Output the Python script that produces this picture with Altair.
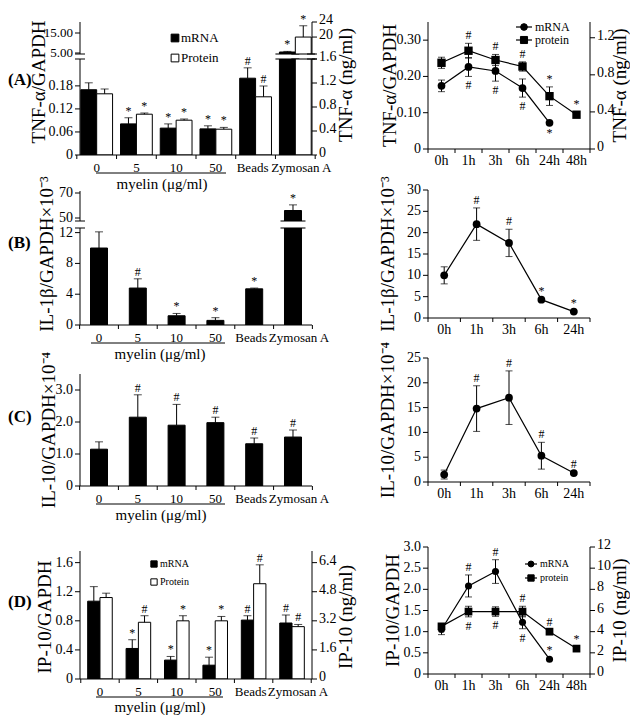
import altair as alt
import pandas as pd

FONT = "Liberation Serif"

# ---------------- data ----------------
groups = ["0", "5", "10", "50", "Beads", "Zymosan A"]
times6 = ["0h", "1h", "3h", "6h", "24h", "48h"]
times5 = ["0h", "1h", "3h", "6h", "24h"]

# (A) TNF-alpha: mRNA (TNF-a/GAPDH) and protein (ng/ml)
a_mrna = [0.170, 0.081, 0.070, 0.068, 0.200, 5.5]
a_mrna_err = [0.018, 0.016, 0.011, 0.008, 0.027, 0.3]
a_mrna_sig = ["", "*", "*", "*", "#", "*"]
a_prot = [1.02, 0.68, 0.58, 0.43, 0.97, 20.0]
a_prot_err = [0.08, 0.02, 0.02, 0.03, 0.18, 3.0]
a_prot_sig = ["", "*", "*", "*", "#", "*"]
at_mrna = [0.174, 0.226, 0.215, 0.168, 0.072]
at_mrna_err = [0.016, 0.026, 0.028, 0.025, 0.003]
at_mrna_sig_dn = ["", "#", "#", "#", "*"]
at_prot = [0.93, 1.06, 0.96, 0.89, 0.57, 0.37]
at_prot_err = [0.06, 0.08, 0.06, 0.05, 0.10, 0.03]
at_prot_sig_up = ["", "#", "#", "#", "*", "*"]

# (B) IL-1beta
b_vals = [10.0, 4.8, 1.2, 0.6, 4.7, 56.0]
b_err = [2.1, 1.2, 0.3, 0.35, 0.1, 4.5]
b_sig = ["", "#", "*", "*", "*", "*"]
bt_vals = [10.0, 22.0, 17.6, 4.3, 1.5]
bt_err = [2.0, 3.8, 3.2, 0.2, 0.2]
bt_sig = ["", "#", "#", "*", "*"]

# (C) IL-10
c_vals = [1.15, 2.15, 1.90, 1.98, 1.32, 1.53]
c_err = [0.23, 0.70, 0.65, 0.17, 0.18, 0.22]
c_sig = ["", "#", "#", "#", "#", "#"]
ct_vals = [1.5, 14.8, 17.0, 5.3, 1.8]
ct_err = [0.9, 4.6, 5.4, 2.7, 0.2]
ct_sig = ["", "#", "#", "#", "#"]

# (D) IP-10
d_mrna = [1.07, 0.42, 0.26, 0.19, 0.81, 0.77]
d_mrna_err = [0.20, 0.12, 0.05, 0.11, 0.06, 0.11]
d_mrna_sig = ["", "*", "*", "*", "#", "#"]
d_prot = [4.48, 3.12, 3.20, 3.20, 5.24, 2.88]
d_prot_err = [0.24, 0.36, 0.28, 0.24, 1.04, 0.12]
d_prot_sig = ["", "#", "*", "*", "#", "#"]
dt_mrna = [1.05, 2.08, 2.42, 1.22, 0.35]
dt_mrna_err = [0.12, 0.26, 0.28, 0.15, 0.02]
dt_mrna_sig_up = ["", "#", "#", "", "*"]
dt_mrna_sig_dn = ["", "", "", "#", ""]
dt_prot = [4.5, 5.9, 5.9, 5.9, 4.0, 2.4]
dt_prot_err = [0.2, 0.5, 0.45, 0.5, 0.15, 0.12]
dt_prot_sig_up = ["", "", "", "#", "#", "*"]
dt_prot_sig_dn = ["", "#", "#", "", "", ""]

# ---------------- tick values / labels ----------------
a_top_l_ticks, a_top_l_labels = [5, 15], ["5.00", "15.00"]
a_top_r_ticks, a_top_r_labels = [20, 24], ["20", "24"]
a_bot_l_ticks, a_bot_l_labels = [0, 0.06, 0.12, 0.18], ["0", "0.06", "0.12", "0.18"]
a_bot_r_ticks, a_bot_r_labels = [0, 0.4, 0.8, 1.2, 1.6], ["0", "0.4", "0.8", "1.2", "1.6"]
at_l_ticks, at_l_labels = [0, 0.1, 0.2, 0.3], ["0", "0.10", "0.20", "0.30"]
at_r_ticks, at_r_labels = [0, 0.4, 0.8, 1.2], ["0", "0.4", "0.8", "1.2"]
b_top_ticks, b_top_labels = [50, 70], ["50", "70"]
b_bot_ticks, b_bot_labels = [0, 4, 8, 12], ["0", "4", "8", "12"]
bt_ticks, bt_labels = [0, 5, 10, 15, 20, 25, 30], ["0", "5", "10", "15", "20", "25", "30"]
c_ticks, c_labels = [0, 1, 2, 3], ["0", "1.0", "2.0", "3.0"]
ct_ticks, ct_labels = [0, 5, 10, 15, 20, 25], ["0", "5", "10", "15", "20", "25"]
d_l_ticks, d_l_labels = [0, 0.4, 0.8, 1.2, 1.6], ["0", "0.4", "0.8", "1.2", "1.6"]
d_r_ticks, d_r_labels = [0, 1.6, 3.2, 4.8, 6.4], ["0", "1.6", "3.2", "4.8", "6.4"]
dt_l_ticks, dt_l_labels = [0, 0.5, 1, 1.5, 2, 2.5, 3], ["0", "0.5", "1.0", "1.5", "2.0", "2.5", "3.0"]
dt_r_ticks, dt_r_labels = [0, 2, 4, 6, 8, 10, 12], ["0", "2", "4", "6", "8", "10", "12"]


# ---------------- helpers ----------------
def gframe(vals, errs, sig):
    return pd.DataFrame({"g": groups, "v": vals,
                         "top": [v + e for v, e in zip(vals, errs)], "sig": sig})


def tframe(times, vals, errs, up=None, dn=None):
    n = len(vals)
    return pd.DataFrame({"t": times[:n], "i": list(range(n)), "v": vals,
                         "top": [v + e for v, e in zip(vals, errs)],
                         "bot": [v - e for v, e in zip(vals, errs)],
                         "up": up if up else [""] * n,
                         "dn": dn if dn else [""] * n})


ONE = pd.DataFrame({"k": [0]})


def yscale(dom):
    return alt.Scale(domain=dom, nice=False, zero=False)


def label_text(s, x, y, size=15, weight="normal", align="left", angle=0):
    kw = dict(font=FONT, fontSize=size, fontWeight=weight, align=align, baseline="middle", color="black")
    if angle:
        kw["angle"] = angle
    return alt.Chart(pd.DataFrame({"s": [s]})).mark_text(**kw).encode(
        x=alt.value(x), y=alt.value(y), text="s:N")


def hline(x1, x2, y, w=1.0, op=1.0):
    return alt.Chart(ONE).mark_rule(color="black", strokeWidth=w, opacity=op).encode(
        x=alt.value(x1), x2=alt.value(x2), y=alt.value(y))


def vline(x, y1, y2, w=1.0):
    return alt.Chart(ONE).mark_rule(color="black", strokeWidth=w).encode(
        x=alt.value(x), y=alt.value(y1), y2=alt.value(y2))


def sym(shape, x, y, size, fill="black"):
    return alt.Chart(ONE).mark_point(shape=shape, filled=True, fill=fill, stroke="black",
                                     strokeWidth=1, size=size, opacity=1).encode(
        x=alt.value(x), y=alt.value(y))


def yaxis_layers(dom, side, ticks, labels, W, h, title=None, tx=0, ty=None, fs=14):
    tdf = pd.DataFrame({"val": ticks, "lab": labels})
    ys = alt.Y("val:Q", scale=yscale(dom), axis=None)
    if side == "left":
        x0, xt, xl, align, ldy = 0, -5, -7, "right", 0
    else:
        x0, xt, xl, align, ldy = W, W + 5, W + 7, "left", -2
    layers = [
        vline(x0, 0, h),
        alt.Chart(tdf).mark_rule(color="black", strokeWidth=1).encode(x=alt.value(x0), x2=alt.value(xt), y=ys),
        alt.Chart(tdf).mark_text(font=FONT, fontSize=fs, align=align, baseline="middle", color="black", dy=ldy)
        .encode(x=alt.value(xl), y=ys, text="lab:N"),
    ]
    if title:
        layers.append(label_text(title, x0 + tx, h / 2 if ty is None else ty, 19, align="center", angle=270))
    return layers


def xaxis_layers(field, cats, scale, W, h, gap, fs, dxs=None, ly=5):
    cdf = pd.DataFrame({field: cats})
    xs0 = alt.X(f"{field}:N", scale=scale, axis=None, bandPosition=0)
    xs1 = alt.X(f"{field}:N", scale=scale, axis=None, bandPosition=1)
    xc = alt.X(f"{field}:N", scale=scale, axis=None)
    layers = [
        hline(0, W, h),
        alt.Chart(cdf).mark_rule(color="black", strokeWidth=1, xOffset=-gap / 2)
        .encode(x=xs0, y=alt.value(h), y2=alt.value(h + 4)),
        alt.Chart(cdf.tail(1)).mark_rule(color="black", strokeWidth=1, xOffset=gap / 2)
        .encode(x=xs1, y=alt.value(h), y2=alt.value(h + 4)),
    ]
    dxs = dxs or [0] * len(cats)
    for dx in sorted(set(dxs)):
        sub = cdf[[d == dx for d in dxs]]
        layers.append(alt.Chart(sub).mark_text(font=FONT, fontSize=fs, baseline="top", color="black", dx=dx)
                      .encode(x=xc, y=alt.value(h + ly), text=f"{field}:N"))
    return layers


GROUP_DX = [0, 0, 0, 0, -3, 6]


def bar_series(df, dom, fill, xoff, bw, xsc, keep=None, brk_y=None, extra=()):
    base = alt.Chart(df)
    xs = alt.X("g:N", scale=xsc, axis=None)

    def Y(f):
        return alt.Y(f + ":Q", scale=yscale(dom), axis=None)

    layers = [
        base.mark_bar(fill=fill, stroke="black", strokeWidth=1, width=bw, xOffset=xoff, clip=True)
        .encode(x=xs, y=Y("v")),
        base.mark_rule(color="black", strokeWidth=1, xOffset=xoff, clip=True)
        .encode(x=xs, y=Y("v"), y2="top:Q"),
        base.mark_tick(orient="horizontal", color="black", size=8, thickness=1, xOffset=xoff, clip=True)
        .encode(x=xs, y=Y("top")),
    ]
    t = base.transform_filter(keep) if keep else base
    layers.append(t.mark_text(font=FONT, fontSize=12, dy=-7, xOffset=xoff, color="black")
                  .encode(x=xs, y=Y("top"), text="sig:N"))
    if brk_y is not None:
        layers.append(base.transform_filter("datum.g == 'Zymosan A'")
                      .mark_tick(orient="horizontal", color="black", size=bw + 8, thickness=1.5, xOffset=xoff)
                      .encode(x=xs, y=alt.value(brk_y)))
    layers.extend(extra)
    return alt.layer(*layers)


def line_series(df, xsc, dom, shape, msize, extra=()):
    base = alt.Chart(df)
    xs = alt.X("t:N", scale=xsc, axis=None)

    def Y(f):
        return alt.Y(f + ":Q", scale=yscale(dom), axis=None)

    return alt.layer(
        base.mark_line(color="black", strokeWidth=1.2).encode(x=xs, y=Y("v"), order="i:Q"),
        base.mark_rule(color="black", strokeWidth=1).encode(x=xs, y=Y("bot"), y2="top:Q"),
        base.mark_tick(orient="horizontal", color="black", size=7, thickness=1).encode(x=xs, y=Y("top")),
        base.mark_tick(orient="horizontal", color="black", size=7, thickness=1).encode(x=xs, y=Y("bot")),
        base.mark_point(shape=shape, filled=True, color="black", size=msize, opacity=1).encode(x=xs, y=Y("v")),
        base.mark_text(font=FONT, fontSize=12, dy=-8, color="black").encode(x=xs, y=Y("top"), text="up:N"),
        base.mark_text(font=FONT, fontSize=12, dy=9, color="black").encode(x=xs, y=Y("bot"), text="dn:N"),
        *extra,
    )


def square_key(x, y, size, fill, text, tx, fs):
    return [sym("square", x, y, size, fill), label_text(text, tx, y, fs)]


def line_key(x1, x2, xm, y, shape, ms, text, tx, fs):
    return [hline(x1, x2, y, 1.2), sym(shape, xm, y, ms), label_text(text, tx, y, fs)]


def myelin(h, x1, x2, xc, dl=18, dt=29):
    return [hline(x1, x2, h + dl), label_text("myelin (μg/ml)", xc, h + dt, 15, align="center")]


def spacer(h, w):
    return alt.Chart(alt.Data(values=[])).mark_point().properties(width=w, height=h)


# ---------------- layout constants ----------------
W_L, W_R = 232, 162


def band_scale(pi, po):
    step = W_L / (6 - pi + 2 * po)
    return alt.Scale(domain=groups, paddingInner=pi, paddingOuter=po), step * (1 - pi), step * pi


xA, bandA, gapA = band_scale(0.2, 0.02)
bwA, xoA = bandA / 2, bandA / 4
xB, bandB, gapB = band_scale(0.56, 0.27)
xD, bandD, gapD = band_scale(0.36, 0.2)
bwD, xoD = bandD / 2, bandD / 4
xT6 = alt.Scale(type="band", domain=times6, paddingInner=0, paddingOuter=0)
xT5 = alt.Scale(type="band", domain=times5, paddingInner=0, paddingOuter=0)

# ---------------- (A) left ----------------
dfA_m = gframe(a_mrna, a_mrna_err, a_mrna_sig)
dfA_p = gframe(a_prot, a_prot_err, a_prot_sig)
A_top_h, A_bot_h = 32, 96
dAlt, dArt, dAlb, dArb = [4.5, 20.5], [15.5, 24], [0, 0.25], [0, 1.6]

A_top = alt.layer(
    bar_series(dfA_m, dAlt, "black", -xoA, bwA, xA, keep="datum.top >= 4.5", brk_y=A_top_h,
               extra=yaxis_layers(dAlt, "left", a_top_l_ticks, a_top_l_labels, W_L, A_top_h, fs=13)),
    bar_series(dfA_p, dArt, "white", xoA, bwA, xA, keep="datum.top >= 15.5", brk_y=A_top_h,
               extra=yaxis_layers(dArt, "right", a_top_r_ticks, a_top_r_labels, W_L, A_top_h)),
    *square_key(95, 16, 60, "black", "mRNA", 101, 13),
    *square_key(95, 36, 60, "white", "Protein", 101, 13),
    hline(-5, 5, A_top_h), hline(W_L - 5, W_L + 5, A_top_h),
    hline(0, 1, -10, 1, 0),                      # invisible anchor (top)
    hline(W_L + 54, W_L + 55, 10, 1, 0),         # invisible anchor (right)
).resolve_scale(y="independent").properties(width=W_L, height=A_top_h)

A_bot = alt.layer(
    bar_series(dfA_m, dAlb, "black", -xoA, bwA, xA, keep="datum.top <= 0.25", brk_y=0,
               extra=yaxis_layers(dAlb, "left", a_bot_l_ticks, a_bot_l_labels, W_L, A_bot_h,
                                  "TNF-α/GAPDH", -41, 23)),
    bar_series(dfA_p, dArb, "white", xoA, bwA, xA, keep="datum.top <= 1.6", brk_y=0,
               extra=yaxis_layers(dArb, "right", a_bot_r_ticks, a_bot_r_labels, W_L, A_bot_h,
                                  "TNF-α (ng/ml)", 34, 26)),
    *xaxis_layers("g", groups, xA, W_L, A_bot_h, gapA, 13, GROUP_DX, 7),
    hline(-5, 5, 0), hline(W_L - 5, W_L + 5, 0),
    label_text("(A)", -72, 21, 17, "bold"),
    *myelin(A_bot_h, 16, 146, 82),
).resolve_scale(y="independent").properties(width=W_L, height=A_bot_h)

# ---------------- (B) left ----------------
dfB = gframe(b_vals, b_err, b_sig)
dBt, dBb = [47.6, 71.6], [0, 12.6]
B_top = alt.layer(
    bar_series(dfB, dBt, "black", 0, 17, xB, keep="datum.top >= 47.6", brk_y=30,
               extra=yaxis_layers(dBt, "left", b_top_ticks, b_top_labels, W_L, 30)),
    hline(-5, 5, 30),
).properties(width=W_L, height=30)
B_bot = alt.layer(
    bar_series(dfB, dBb, "black", 0, 17, xB, keep="datum.top <= 12.6", brk_y=0,
               extra=yaxis_layers(dBb, "left", b_bot_ticks, b_bot_labels, W_L, 97,
                                  "IL-1β/GAPDH×10⁻³", -33, 26)),
    *xaxis_layers("g", groups, xB, W_L, 97, gapB, 13, GROUP_DX, 7),
    hline(-5, 5, 0),
    label_text("(B)", -72, 15, 17, "bold"),
    *myelin(97, 11, 145, 80),
).properties(width=W_L, height=97)

# ---------------- (C) left ----------------
dfC = gframe(c_vals, c_err, c_sig)
C_left = alt.layer(
    bar_series(dfC, [0, 3.5], "black", 0, 17, xB,
               extra=yaxis_layers([0, 3.5], "left", c_ticks, c_labels, W_L, 112, "IL-10/GAPDH×10⁻⁴", -31, 56)),
    *xaxis_layers("g", groups, xB, W_L, 112, gapB, 13, GROUP_DX, 7),
    label_text("(C)", -72, 43, 17, "bold"),
    *myelin(112, 16, 145, 81),
).properties(width=W_L, height=112)

# ---------------- (D) left ----------------
dfD_m = gframe(d_mrna, d_mrna_err, d_mrna_sig)
dfD_p = gframe(d_prot, d_prot_err, d_prot_sig)
D_left = alt.layer(
    bar_series(dfD_m, [0, 1.76], "black", -xoD, bwD, xD,
               extra=yaxis_layers([0, 1.76], "left", d_l_ticks, d_l_labels, W_L, 128, "IP-10/GAPDH", -35, 66)),
    bar_series(dfD_p, [0, 7.04], "white", xoD, bwD, xD,
               extra=yaxis_layers([0, 7.04], "right", d_r_ticks, d_r_labels, W_L, 128, "IP-10 (ng/ml)", 34, 66)),
    *xaxis_layers("g", groups, xD, W_L, 128, gapD, 13, GROUP_DX, 7),
    *square_key(74, 13, 40, "black", "mRNA", 80, 10),
    *square_key(74, 31, 40, "white", "Protein", 80, 10),
    label_text("(D)", -72, 51, 17, "bold"),
    *myelin(128, 16, 143, 80, 18, 28),
).resolve_scale(y="independent").properties(width=W_L, height=128)

# ---------------- right column ----------------
A_r = alt.layer(
    line_series(tframe(times6, at_mrna, at_mrna_err, dn=at_mrna_sig_dn), xT6, [0, 0.35], "circle", 60,
                extra=yaxis_layers([0, 0.35], "left", at_l_ticks, at_l_labels, W_R, 127, "TNF-α/GAPDH", -38)),
    line_series(tframe(times6, at_prot, at_prot_err, up=at_prot_sig_up), xT6, [0, 1.37], "square", 70,
                extra=yaxis_layers([0, 1.37], "right", at_r_ticks, at_r_labels, W_R, 127, "TNF-α (ng/ml)", 30)),
    *xaxis_layers("t", times6, xT6, W_R, 127, 0, 14),
    *line_key(88, 104, 96, 5, "circle", 45, "mRNA", 107, 12),
    *line_key(88, 104, 96, 18, "square", 50, "protein", 107, 12),
    hline(0, 1, -14, 1, 0),                      # invisible anchor (top)
    hline(-55, -54, 10, 1, 0),                   # invisible anchor (left)
).resolve_scale(y="independent").properties(width=W_R, height=127)

B_r = alt.layer(
    line_series(tframe(times5, bt_vals, bt_err, up=bt_sig), xT5, [0, 30], "circle", 60,
                extra=yaxis_layers([0, 30], "left", bt_ticks, bt_labels, W_R, 128, "IL-1β/GAPDH×10⁻³", -40)),
    *xaxis_layers("t", times5, xT5, W_R, 128, 0, 14),
).properties(width=W_R, height=128)

C_r = alt.layer(
    line_series(tframe(times5, ct_vals, ct_err, up=ct_sig), xT5, [0, 25], "circle", 60,
                extra=yaxis_layers([0, 25], "left", ct_ticks, ct_labels, W_R, 124, "IL-10/GAPDH×10⁻⁴", -40)),
    *xaxis_layers("t", times5, xT5, W_R, 124, 0, 14),
).properties(width=W_R, height=124)

D_r = alt.layer(
    line_series(tframe(times6, dt_mrna, dt_mrna_err, up=dt_mrna_sig_up, dn=dt_mrna_sig_dn), xT6, [0, 3],
                "circle", 50,
                extra=yaxis_layers([0, 3], "left", dt_l_ticks, dt_l_labels, W_R, 127, "IP-10/GAPDH", -35)),
    line_series(tframe(times6, dt_prot, dt_prot_err, up=dt_prot_sig_up, dn=dt_prot_sig_dn), xT6, [0, 12],
                "square", 60,
                extra=yaxis_layers([0, 12], "right", dt_r_ticks, dt_r_labels, W_R, 127, "IP-10 (ng/ml)", 30)),
    *xaxis_layers("t", times6, xT6, W_R, 127, 0, 14),
    *line_key(97, 109, 103, 17, "circle", 35, "mRNA", 112, 10),
    *line_key(97, 109, 103, 31, "square", 40, "protein", 112, 10),
).resolve_scale(y="independent").properties(width=W_R, height=127)

left = alt.vconcat(
    A_top, spacer(5, W_L), A_bot, spacer(36, W_L), B_top, spacer(7, W_L), B_bot,
    spacer(49, W_L), C_left, spacer(65, W_L), D_left,
    spacing=0, bounds="flush",
)
right = alt.vconcat(
    A_r, spacer(41, W_R), B_r, spacer(40, W_R), C_r, spacer(65, W_R), D_r,
    spacing=0, bounds="flush",
)

chart = alt.hconcat(left, right, spacing=6).properties(padding=0).configure_view(stroke=None)

chart.save("out.html", embed_options={"renderer": "svg", "actions": False})
